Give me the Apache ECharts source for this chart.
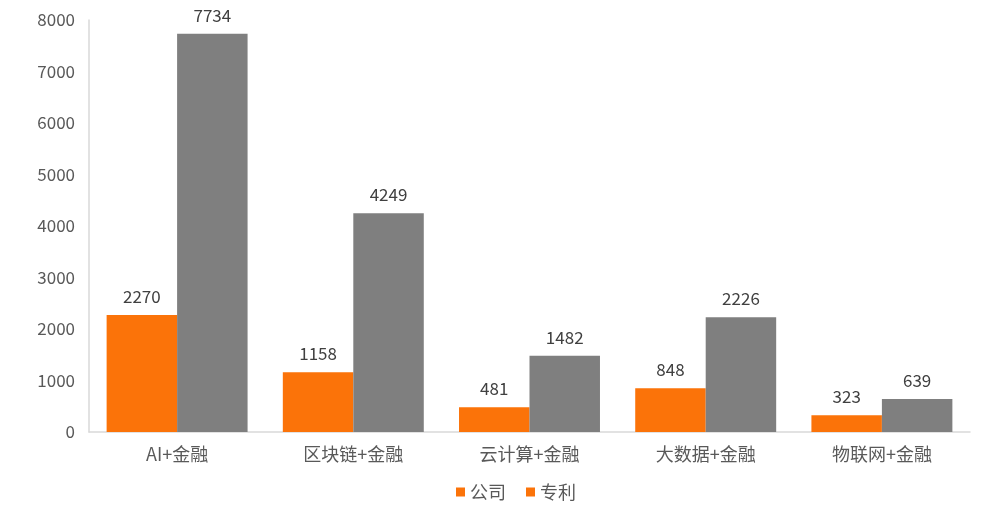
<!DOCTYPE html>
<html><head><meta charset="utf-8">
<script src="https://cdn.jsdelivr.net/npm/echarts@6/dist/echarts.min.js"></script>
<style>html,body{margin:0;padding:0;background:#fff}#c{width:1005px;height:512px}</style>
</head><body><div id="c"></div>
<script>
var categories = ['AI+金融', '区块链+金融', '云计算+金融', '大数据+金融', '物联网+金融'];
var companies = [2270, 1158, 481, 848, 323];
var patents = [7734, 4249, 1482, 2226, 639];
var seriesNames = ['公司', '专利'];
var yTicks = { min: 0, max: 8000, interval: 1000 };

var font = '"Noto Sans CJK SC", "Noto Sans", sans-serif';
var chart = echarts.init(document.getElementById('c'));
chart.setOption({
  animation: false,
  textStyle: { fontFamily: font },
  grid: { left: 89, right: 35, top: 20, bottom: 80 },
  legend: {
    bottom: 6, left: 451,
    icon: 'rect', itemWidth: 9, itemHeight: 9, itemGap: 20,
    textStyle: { fontSize: 18, color: '#595959', fontFamily: font },
    data: [
      { name: seriesNames[0], itemStyle: { color: '#FB7309' } },
      { name: seriesNames[1], itemStyle: { color: '#FB7309' } }
    ]
  },
  xAxis: {
    type: 'category', data: categories,
    axisLine: { lineStyle: { color: '#D9D9D9', width: 1.5 } },
    axisTick: { show: false },
    axisLabel: { fontSize: 18, color: '#595959', margin: 13, fontFamily: font }
  },
  yAxis: {
    type: 'value', min: yTicks.min, max: yTicks.max, interval: yTicks.interval,
    axisLine: { show: true, lineStyle: { color: '#D9D9D9', width: 1.5 } },
    axisTick: { show: false },
    splitLine: { show: false },
    axisLabel: { fontSize: 17, color: '#595959', margin: 14, fontFamily: font,
      formatter: function (v) { return String(v); } }
  },
  series: [
    { name: seriesNames[0], type: 'bar', data: companies, barGap: '0%', barCategoryGap: '20%',
      itemStyle: { color: '#FB7309' },
      label: { show: true, position: 'top', distance: 10, fontSize: 17, color: '#404040', fontFamily: font } },
    { name: seriesNames[1], type: 'bar', data: patents,
      itemStyle: { color: '#7F7F7F' },
      label: { show: true, position: 'top', distance: 10, fontSize: 17, color: '#404040', fontFamily: font } }
  ]
});
</script></body></html>
